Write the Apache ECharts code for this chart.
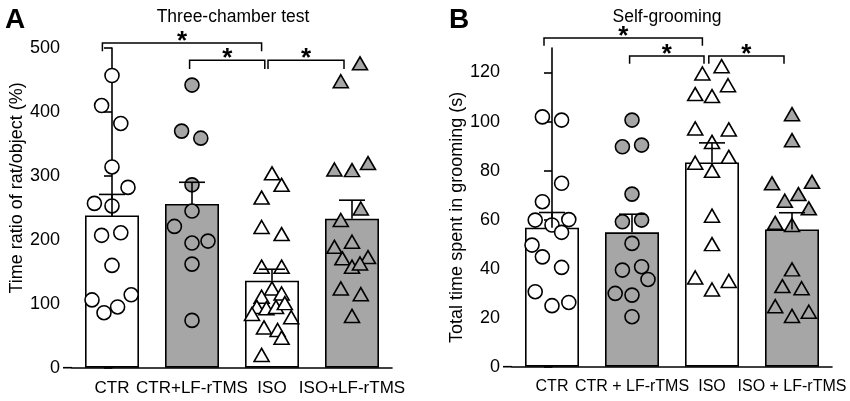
<!DOCTYPE html>
<html lang="en" style="height: 100%">
   <head>
      <meta charset="utf-8">
   </head>
   <body style="height: 100%; margin: 0">
      <div id="container" style="width: 850px; height: 401px"></div>
      <script type="text/javascript" src="https://fastly.jsdelivr.net/npm/echarts@6.0.0/dist/echarts.min.js"></script>
      <script type="text/javascript">
var categoriesA = ['CTR', 'CTR+LF-rTMS', 'ISO', 'ISO+LF-rTMS'];
var categoriesB = ['CTR', 'CTR + LF-rTMS', 'ISO', 'ISO + LF-rTMS'];

// panel A: three-chamber test, bar = mean, err = SEM
var meanA = [238, 256, 136, 233];
var semA = [33, 34, 18, 29];
var ctrA = [457, 410, 382, 314, 282, 257, 253, 207, 211, 160, 106, 114, 86, 95];
var ctrAx = [0, -0.13, 0.11, 0, 0.2, -0.22, 0, -0.13, 0.11, 0, -0.25, 0.24, -0.1, 0.07];
var ctrLfA = [442, 370, 359, 286, 245, 221, 195, 198, 162, 74];
var ctrLfAx = [0, -0.13, 0.11, 0, 0, -0.22, 0, 0.2, 0, 0];
var isoA = [304, 286, 266, 220, 209, 158, 158, 124, 111, 116, 95, 93, 95, 101, 84, 79, 63, 59, 47, 20];
var isoAx = [0, 0.12, -0.13, -0.13, 0.12, -0.13, 0.12, 0, -0.13, 0.12, -0.19, -0.07, 0.05, 0.16, -0.25, 0.24, -0.1, 0.07, 0.12, -0.13];
var isoLfA = [476, 448, 310, 309, 320, 249, 231, 197, 189, 171, 173, 158, 163, 124, 115, 81];
var isoLfAx = [0.1, -0.14, -0.22, 0, 0.2, 0.11, -0.14, 0, -0.22, -0.12, 0.2, 0, 0.1, -0.14, 0.11, 0];
// [from, to, bar level, leg end]
var bracketsA = [[-0.12, 1.87, 508, 495], [0.97, 1.91, 481, 467], [1.95, 2.9, 481, 467]];
var yTicksA = [0, 100, 200, 300, 400, 500];

// panel B: self-grooming
var meanB = [56.7, 54.8, 83.3, 56];
var semB = [6.2, 7.4, 8, 6.8];
var ctrB = [101.9, 100.6, 74.8, 67.3, 59.8, 60, 57.8, 54.8, 49.6, 44.8, 40.5, 30.6, 24.9, 26.2];
var ctrBx = [-0.12, 0.12, 0.12, -0.12, -0.21, 0.21, 0, 0.12, -0.25, -0.12, 0.12, -0.21, 0, 0.21];
var ctrLfB = [100.6, 89.7, 90.4, 70.4, 59.1, 59.8, 50.3, 39.4, 40.8, 35.6, 29.9, 29.2, 20.4];
var ctrLfBx = [0, -0.12, 0.12, 0, -0.12, 0.12, 0, -0.12, 0.12, 0.2, -0.21, 0, 0];
var isoB = [122.6, 119.6, 114.8, 111.2, 110.4, 97.2, 96.8, 91.7, 83.2, 85.6, 79.9, 61.6, 50, 36.4, 35, 31.5];
var isoBx = [0.12, -0.12, 0.2, -0.21, 0, -0.21, 0.21, 0, -0.21, 0.21, 0, 0, 0, -0.21, 0.21, 0];
var isoLfB = [103, 92.4, 74.8, 75.4, 70.4, 67.7, 64.6, 58.7, 57.8, 39.7, 32.9, 32, 24.7, 20.7, 22.4];
var isoLfBx = [0, 0, -0.25, 0.25, 0.08, -0.09, 0.21, -0.21, 0, 0, -0.12, 0.12, -0.21, 0, 0.21];
var bracketsB = [[-0.1, 1.88, 134.1, 130.9], [0.97, 1.9, 126.7, 123.6], [1.96, 2.9, 126.7, 123.6]];
var yTicksB = [0, 20, 40, 60, 80, 100, 120];

var GRAY = '#a6a6a6';
var FONT = 'Liberation Sans';
var barFill = ['#fff', GRAY, '#fff', GRAY];
var symbols = ['circle', 'circle', 'triangle', 'triangle'];

var dom = document.getElementById('container');
var myChart = echarts.init(dom, null, { renderer: 'canvas' });

function errorItem(params, api) {
  var x = api.value(0), m = api.value(1), e = api.value(2);
  var p0 = api.coord([x, m]);
  var p1 = api.coord([x, m + e]);
  var st = { stroke: '#000', lineWidth: 1.6 };
  return {
    type: 'group',
    children: [
      { type: 'line', shape: { x1: p0[0], y1: p0[1], x2: p1[0], y2: p1[1] }, style: st },
      { type: 'line', shape: { x1: p1[0] - 13, y1: p1[1], x2: p1[0] + 13, y2: p1[1] }, style: st }
    ]
  };
}

function bracketItem(params, api) {
  var x1 = api.value(0), x2 = api.value(1), yb = api.value(2), yl = api.value(3);
  var a = api.coord([x1, yl]), b = api.coord([x1, yb]);
  var c = api.coord([x2, yb]), d = api.coord([x2, yl]);
  return {
    type: 'group',
    children: [
      { type: 'polyline', shape: { points: [a, b, c, d] },
        style: { stroke: '#000', fill: null, lineWidth: 1.5 } },
      { type: 'text', x: (b[0] + c[0]) / 2, y: b[1] - 1,
        style: { text: '*', font: 'bold 26px ' + FONT, fill: '#000',
                 textAlign: 'center', textVerticalAlign: 'middle' } }
    ]
  };
}

function groupSeries(vals, offs, k, gi) {
  return {
    type: 'scatter',
    xAxisIndex: gi * 2 + 1,
    yAxisIndex: gi,
    symbol: symbols[k],
    symbolSize: symbols[k] === 'circle' ? 14 : [15, 13],
    itemStyle: { color: barFill[k], borderColor: '#000', borderWidth: 1.6, opacity: 1 },
    z: 3,
    data: vals.map(function (v, i) { return [k + offs[i], v]; })
  };
}

function panelSeries(gi, mean, sem, groups, brackets) {
  var list = [];
  list.push({
    type: 'bar',
    xAxisIndex: gi * 2,
    yAxisIndex: gi,
    barWidth: 54,
    z: 2,
    data: mean.map(function (v, i) {
      return { value: v, itemStyle: { color: barFill[i], borderColor: '#000', borderWidth: 1.6 } };
    })
  });
  groups.forEach(function (g, k) { list.push(groupSeries(g[0], g[1], k, gi)); });
  list.push({
    type: 'custom',
    xAxisIndex: gi * 2,
    yAxisIndex: gi,
    z: 4,
    renderItem: errorItem,
    data: mean.map(function (v, i) { return [i, v, sem[i]]; })
  });
  list.push({
    type: 'custom',
    xAxisIndex: gi * 2 + 1,
    yAxisIndex: gi,
    clip: false,
    z: 4,
    renderItem: bracketItem,
    data: brackets
  });
  return list;
}

function catAxis(gi, cats, fs) {
  return {
    type: 'category',
    gridIndex: gi,
    data: cats,
    axisLine: { lineStyle: { color: '#000', width: 1.6 } },
    axisTick: { alignWithLabel: true, length: 5, lineStyle: { color: '#000', width: 1.6 } },
    axisLabel: { interval: 0, color: '#000', fontFamily: FONT, fontSize: fs, margin: 12 },
    splitLine: { show: false }
  };
}

function posAxis(gi) {
  return { type: 'value', gridIndex: gi, min: -0.5, max: 3.5, show: false };
}

function valAxis(gi, name, max, ticks, gap, pad) {
  return {
    type: 'value',
    gridIndex: gi,
    min: 0,
    max: max,
    name: name,
    nameLocation: 'middle',
    nameGap: gap,
    nameTextStyle: { color: '#000', fontFamily: FONT, fontSize: 18, padding: pad },
    axisLine: { show: true, lineStyle: { color: '#000', width: 1.6 } },
    axisTick: { show: true, length: 8, customValues: ticks, lineStyle: { color: '#000', width: 1.6 } },
    axisLabel: { customValues: ticks, color: '#000', fontFamily: FONT, fontSize: 18, margin: 12 },
    splitLine: { show: false }
  };
}

var option = {
  animation: false,
  backgroundColor: '#fff',
  title: [
    { text: 'A', left: 0, top: 1, textStyle: { fontFamily: FONT, fontSize: 28, fontWeight: 'bold', color: '#000' } },
    { text: 'Three-chamber test', left: 228, top: 3, textAlign: 'center',
      textStyle: { fontFamily: FONT, fontSize: 17.5, fontWeight: 'normal', color: '#000' } },
    { text: 'B', left: 444, top: 1, textStyle: { fontFamily: FONT, fontSize: 28, fontWeight: 'bold', color: '#000' } },
    { text: 'Self-grooming', left: 662, top: 3, textAlign: 'center',
      textStyle: { fontFamily: FONT, fontSize: 17.5, fontWeight: 'normal', color: '#000' } }
  ],
  grid: [
    { left: 72, top: 48, width: 320, bottom: 33.3 },
    { left: 512, top: 48, width: 320, bottom: 34.3 }
  ],
  xAxis: [catAxis(0, categoriesA, 17), posAxis(0), catAxis(1, categoriesB, 16), posAxis(1)],
  yAxis: [
    valAxis(0, 'Time ratio of rat/object (%)', 500, yTicksA, 46, [0, 0, 0, 40]),
    valAxis(1, 'Total time spent in grooming (s)', 130, yTicksB, 42, [0, 20, 0, 0])
  ],
  series: [].concat(
    panelSeries(0, meanA, semA,
      [[ctrA, ctrAx], [ctrLfA, ctrLfAx], [isoA, isoAx], [isoLfA, isoLfAx]], bracketsA),
    panelSeries(1, meanB, semB,
      [[ctrB, ctrBx], [ctrLfB, ctrLfBx], [isoB, isoBx], [isoLfB, isoLfBx]], bracketsB)
  )
};

myChart.setOption(option);

// x axis line runs a little to the left of the y axis
var stubs = [0, 1].map(function (gi) {
  var p = myChart.convertToPixel({ xAxisIndex: gi * 2 + 1, yAxisIndex: gi }, [-0.5, 0]);
  return { type: 'line', shape: { x1: p[0] - 9, y1: p[1], x2: p[0], y2: p[1] },
           style: { stroke: '#000', lineWidth: 1.6 } };
});
myChart.setOption({ graphic: stubs });
window.addEventListener('resize', myChart.resize);
      </script>
   </body>
</html>
